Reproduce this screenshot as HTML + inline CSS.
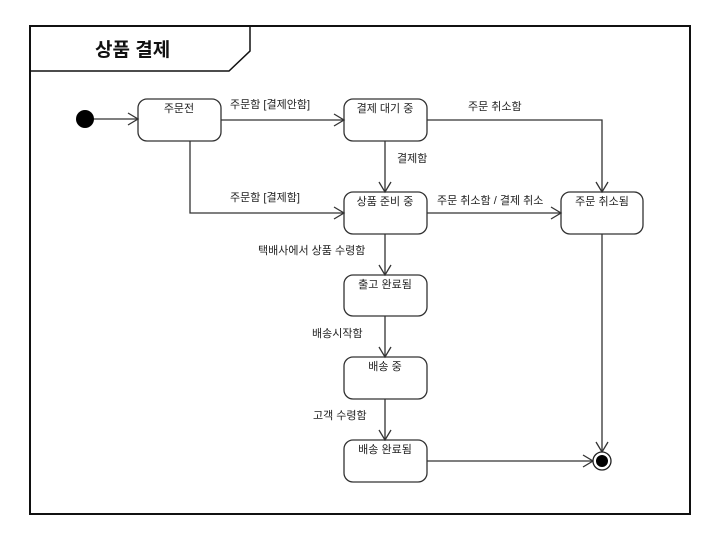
<!DOCTYPE html>
<html><head><meta charset="utf-8"><style>
body{margin:0;background:#fff;width:727px;height:547px;overflow:hidden}
svg text{font-family:"Liberation Sans","Noto Sans CJK KR",sans-serif;font-size:11px;fill:#222}
</style></head><body>
<svg width="727" height="547" viewBox="0 0 727 547" xmlns="http://www.w3.org/2000/svg">
<rect x="30" y="26" width="660" height="488" fill="#fff" stroke="#111" stroke-width="2"/>
<path d="M30 71 H229 L250 51 V26" fill="none" stroke="#111" stroke-width="1.5"/>
<text x="95" y="56" style="font-size:19px;font-weight:bold;fill:#111">상품 결제</text>
<g fill="none" stroke="#333" stroke-width="1.3">
<rect x="138" y="99" width="83" height="42" rx="9"/>
<rect x="344" y="99" width="83" height="42" rx="9"/>
<rect x="344" y="192" width="83" height="42" rx="9"/>
<rect x="561" y="192" width="82" height="42" rx="9"/>
<rect x="344" y="275" width="83" height="41" rx="9"/>
<rect x="344" y="357" width="83" height="42" rx="9"/>
<rect x="344" y="440" width="83" height="42" rx="9"/>
<path d="M85 119 H138 M221 120 H344 M190 141 V213 H344 M427 120 H602 V192 M385 141 V192 M427 213 H561 M385 234 V275 M385 316 V357 M385 399 V440 M427 461 H593 M602 234 V452"/>
<path d="M128 113 L138 119 L128 125 M334 114 L344 120 L334 126 M334 207 L344 213 L334 219 M596 182 L602 192 L608 182 M379 182 L385 192 L391 182 M551 207 L561 213 L551 219 M379 265 L385 275 L391 265 M379 347 L385 357 L391 347 M379 430 L385 440 L391 430 M583 455 L593 461 L583 467 M596 442 L602 452 L608 442"/>
</g>
<circle cx="85" cy="119" r="9" fill="#000"/>
<circle cx="602" cy="461" r="9" fill="#fff" stroke="#222" stroke-width="1.3"/>
<circle cx="602" cy="461" r="6" fill="#000"/>
<g text-anchor="middle">
<text x="179" y="112">주문전</text>
<text x="385" y="112">결제 대기 중</text>
<text x="385" y="205">상품 준비 중</text>
<text x="602" y="205">주문 취소됨</text>
<text x="385" y="288">출고 완료됨</text>
<text x="385" y="370">배송 중</text>
<text x="385" y="453">배송 완료됨</text>
</g>
<text x="230" y="108">주문함 [결제안함]</text>
<text x="230" y="201">주문함 [결제함]</text>
<text x="468" y="110">주문 취소함</text>
<text x="397" y="162">결제함</text>
<text x="437" y="204">주문 취소함 / 결제 취소</text>
<text x="258" y="254">택배사에서 상품 수령함</text>
<text x="312" y="337">배송시작함</text>
<text x="313" y="419">고객 수령함</text>
</svg>
</body></html>
